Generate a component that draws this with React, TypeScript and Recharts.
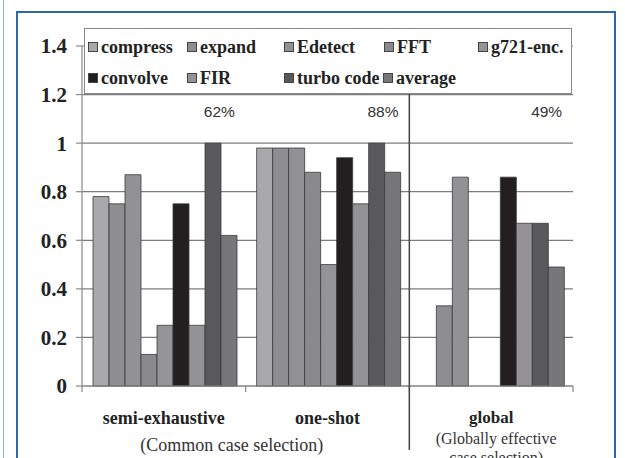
import { BarChart, Bar, XAxis, YAxis, CartesianGrid } from 'recharts';

const categories = ['semi-exhaustive', 'one-shot', 'global'];
const percentLabels = ['62%', '88%', '49%'];
const seriesNames = ['compress', 'expand', 'Edetect', 'FFT', 'g721-enc.', 'convolve', 'FIR', 'turbo code', 'average'];
const compress = [0.78, 0.98, null];
const expand = [0.75, 0.98, 0.33];
const edetect = [0.87, 0.98, 0.86];
const fft = [0.13, 0.88, null];
const g721 = [0.25, 0.5, null];
const convolve = [0.75, 0.94, 0.86];
const fir = [0.25, 0.75, 0.67];
const turbo = [1.0, 1.0, 0.67];
const average = [0.62, 0.88, 0.49];
const yTicks = [0, 0.2, 0.4, 0.6, 0.8, 1, 1.2, 1.4];

const colors = ['#a9a9ac', '#8e8e91', '#929295', '#8a8a8d', '#949497', '#231f20', '#939396', '#59595b', '#77777a'];
const allSeries = [compress, expand, edetect, fft, g721, convolve, fir, turbo, average];

const data = categories.map((c, i) => {
  const row: Record<string, string | number | null> = { name: c };
  seriesNames.forEach((s, j) => {
    row[s] = allSeries[j][i];
  });
  return row;
});

const serif = 'Liberation Serif, Times New Roman, Times, serif';
const BAND = 491 / 3;
const HALF_GROUP = 71;

// legend slots (row, column x)
const legendPos = [
  [0, 3], [0, 102], [0, 199], [0, 299], [0, 393],
  [1, 3], [1, 102], [1, 199], [1, 298],
];

function CatTick(props: any) {
  const { x, y, index } = props;
  const left = x - BAND / 2;
  return (
    <g>
      <line x1={left} y1={y} x2={left} y2={y + 6} stroke="#888" strokeWidth={1.2} />
      {index === 2 && <line x1={x + BAND / 2} y1={y} x2={x + BAND / 2} y2={y + 6} stroke="#888" strokeWidth={1.2} />}
      <text x={x + HALF_GROUP} y={y - 269} textAnchor="end" fontFamily="Arial, Liberation Sans, sans-serif" fontSize={15.5} fill="#333">
        {percentLabels[index]}
      </text>
      {index === 2 ? (
        <>
          <line x1={left} y1={y - 292} x2={left} y2={y + 64} stroke="#444" strokeWidth={1.5} />
          <text x={x} y={y + 37} textAnchor="middle" fontFamily={serif} fontWeight="bold" fontSize={17} fill="#222">
            {categories[index]}
          </text>
          <text x={x + 5} y={y + 58} textAnchor="middle" fontFamily={serif} fontSize={16} fill="#333">
            (Globally effective
          </text>
          <text x={x + 5} y={y + 77} textAnchor="middle" fontFamily={serif} fontSize={16} fill="#333">
            case selection)
          </text>
        </>
      ) : (
        <text x={x} y={y + 38} textAnchor="middle" fontFamily={serif} fontWeight="bold" fontSize={18} fill="#222">
          {categories[index]}
        </text>
      )}
      {index === 0 && (
        <text x={x + BAND / 2 - 14} y={y + 65} textAnchor="middle" fontFamily={serif} fontSize={18} fill="#333">
          (Common case selection)
        </text>
      )}
    </g>
  );
}

export default function App() {
  return (
    <div style={{ position: 'absolute', left: 0, top: 0, width: 625, height: 458, background: '#fff', overflow: 'hidden' }}>
      {/* page frame */}
      <div style={{ position: 'absolute', left: 3, top: 0, width: 1, height: 458, background: '#8fb2d6' }} />
      <div style={{ position: 'absolute', left: 16, top: 11, width: 600, height: 460, border: '2px solid #2a6aab', boxSizing: 'border-box' }} />

      <div style={{ position: 'absolute', left: 0, top: 0 }}>
        <BarChart
          width={625}
          height={458}
          data={data}
          margin={{ top: 46, right: 52, bottom: 0, left: 22 }}
          barCategoryGap={11}
          barGap={0}
        >
          <CartesianGrid vertical={false} horizontal stroke="#7d7d7d" strokeWidth={1.2} />
          <XAxis
            dataKey="name"
            height={72}
            axisLine={{ stroke: '#888', strokeWidth: 1.2 }}
            tickLine={false}
            tickSize={0}
            tickMargin={0}
            interval={0}
            tick={(p: any) => <CatTick {...p} />}
          />
          <YAxis
            width={60}
            domain={[0, 1.4]}
            ticks={yTicks}
            interval={0}
            axisLine={{ stroke: '#888', strokeWidth: 1.2 }}
            tickLine={{ stroke: '#888', strokeWidth: 1.2 }}
            tickSize={6}
            tickMargin={9}
            tick={{ fontFamily: serif, fontWeight: 'bold', fontSize: 21, fill: '#222' }}
          />
          {seriesNames.map((s, j) => (
            <Bar
              key={s}
              dataKey={s}
              fill={colors[j]}
              stroke="#3a3a3a"
              strokeWidth={0.8}
              isAnimationActive={false}
            />
          ))}
        </BarChart>
      </div>

      {/* legend */}
      <div
        style={{
          position: 'absolute',
          left: 84,
          top: 28,
          width: 488,
          height: 66,
          background: '#fff',
          border: '1.5px solid #8a8a8a',
          boxSizing: 'border-box',
        }}
      >
        {seriesNames.map((s, j) => (
          <div
            key={s}
            style={{
              position: 'absolute',
              left: legendPos[j][1],
              top: legendPos[j][0] === 0 ? 8 : 39,
              display: 'flex',
              alignItems: 'center',
              fontFamily: serif,
              fontWeight: 'bold',
              fontSize: 18,
              color: '#222',
              lineHeight: '20px',
              whiteSpace: 'nowrap',
            }}
          >
            <span
              style={{
                display: 'inline-block',
                width: 8,
                height: 8,
                background: colors[j],
                border: '1px solid #444',
                marginRight: 3,
              }}
            />
            {s}
          </div>
        ))}
      </div>
    </div>
  );
}
